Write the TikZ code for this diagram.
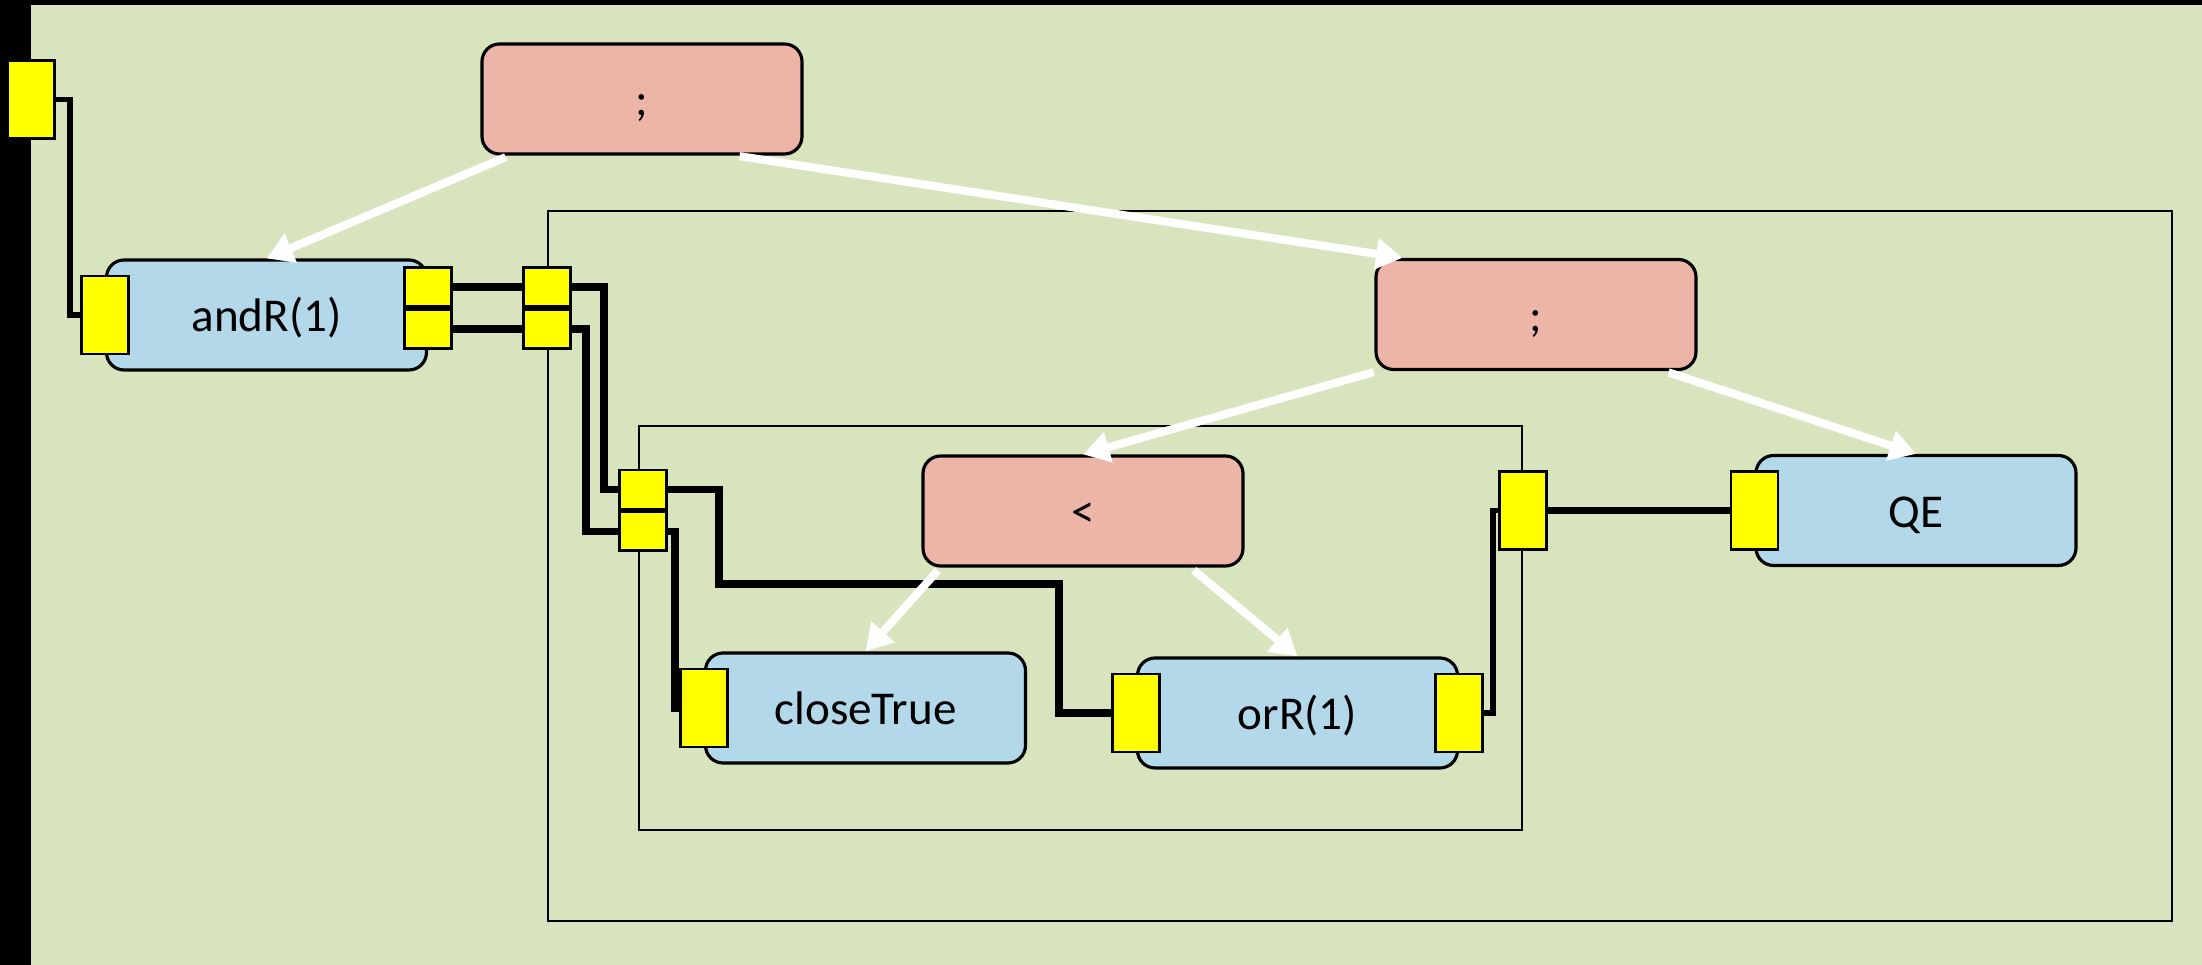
\documentclass[tikz,border=0pt]{standalone}
\usepackage{fontspec}
\setmainfont{Carlito}
\usepackage{tikz}
\usetikzlibrary{arrows.meta, positioning, calc}
\definecolor{canvasgreen}{RGB}{215,228,189}
\definecolor{opred}{RGB}{237,180,168}
\definecolor{ruleblue}{RGB}{178,216,234}
\definecolor{portyellow}{RGB}{255,255,0}

\tikzset{
    opbox/.style={draw=black, line width=0.9pt, rounded corners=5pt, fill=opred,
                  minimum width=3.2cm, minimum height=1.1cm, inner sep=0pt,
                  text height=0.46cm, text depth=0.12cm,
                  font=\fontsize{13.4pt}{16pt}\selectfont},
    rulebox/.style={opbox, fill=ruleblue},
    port/.style={draw=black, line width=0.8pt, fill=portyellow, inner sep=0pt,
                 minimum width=0.47cm, minimum height=0.78cm},
    halfport/.style={port, minimum height=0.39cm},
    frame/.style={draw=black, line width=0.6pt, inner sep=0pt},
    wire/.style={draw=black, line width=2.1pt},
    treeedge/.style={draw=white, line width=2.3pt, shorten <=0.04cm,
                     -{Triangle[width=8.5pt,length=7.5pt]}}
}

\begin{document}
\begin{tikzpicture}[y=-1cm]
    \useasboundingbox (0,0) rectangle (22.02,9.65);
    \fill[black] (0,0) rectangle (22.02,9.65);
    \fill[canvasgreen] (0.31,0.05) rectangle (22.02,9.65);

    % nested scopes
    \node[frame, minimum width=16.24cm, minimum height=7.1cm] (outer) at (13.6,5.66) {};
    \node[frame, minimum width=8.83cm, minimum height=4.04cm] (inner) at (10.805,6.28) {};

    \node[opbox] (seq1) at (6.42,0.99) {;};
    \node[rulebox] (andR) at (2.665,3.15) {andR(1)};
    \node[opbox] (seq2) at (15.36,3.145) {;};
    \node[opbox] (lt) at (10.83,5.11) {<};
    \node[rulebox] (QE) at (19.16,5.105) {QE};
    \node[rulebox] (closeT) at (8.655,7.08) {closeTrue};
    \node[rulebox] (orR) at (12.975,7.13) {orR(1)};

    % ports
    \node[port] (pin) at (0.31,0.995) {};
    \node[port] (andRin) at (andR.west) {};
    \node[halfport, anchor=south] (andRo1) at ([yshift=0.07cm]andR.east) {};
    \node[halfport, anchor=north] (andRo2) at ([yshift=0.07cm]andR.east) {};
    \node[halfport, anchor=south] (outo1) at ([yshift=0.07cm]outer.west |- andR.east) {};
    \node[halfport, anchor=north] (outo2) at ([yshift=0.07cm]outer.west |- andR.east) {};
    \node[halfport, anchor=south] (ino1) at ([xshift=0.05cm]inner.west |- QE.west) {};
    \node[halfport, anchor=north] (ino2) at ([xshift=0.05cm]inner.west |- QE.west) {};
    \node[port] (inout) at (inner.east |- QE.west) {};
    \node[port] (ctin) at (closeT.west) {};
    \node[port] (orin) at (orR.west) {};
    \node[port] (orout) at (orR.east) {};
    \node[port] (qein) at (QE.west) {};

    % wires
    \draw[wire, line width=1.6pt] (pin.east) -- ++(0.14,0) |- (andRin.west);
    \draw[wire] (andRo1.east) -- (outo1.west);
    \draw[wire] (andRo2.east) -- (outo2.west);
    \draw[wire] (outo1.east) -- ++(0.32,0) |- (ino1.west);
    \draw[wire] (outo2.east) -- ++(0.14,0) |- (ino2.west);
    \draw[wire] (ino1.east) -- ++(0.51,0) |- (10.59,5.84) |- (orin.west);
    \draw[wire] (ino2.east) -- ++(0.07,0) |- (ctin.west);
    \draw[wire, line width=1.6pt] (orout.east) -- ++(0.09,0) |- (inout.west);
    \draw[wire] (inout.east) -- (qein.west);

    % tree edges
    \draw[treeedge] ([xshift=0.29cm]seq1.south west) -- (andR.north);
    \draw[treeedge] ([xshift=-0.68cm]seq1.south east) -- ([xshift=0.28cm]seq2.north west);
    \draw[treeedge] ([xshift=0.03cm]seq2.south west) -- (lt.north);
    \draw[treeedge] ([xshift=-0.33cm]seq2.south east) -- (QE.north);
    \draw[treeedge] ([xshift=0.19cm]lt.south west) -- (closeT.north);
    \draw[treeedge] ([xshift=-0.54cm]lt.south east) -- (orR.north);
\end{tikzpicture}
\end{document}
